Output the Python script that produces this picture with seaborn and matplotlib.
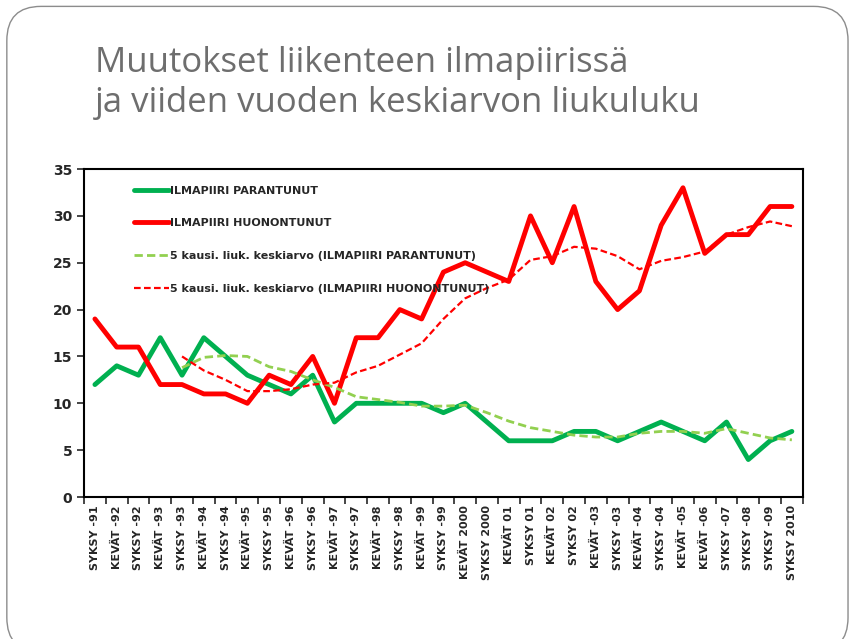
import numpy as np
import pandas as pd
import matplotlib.pyplot as plt
import seaborn as sns
from matplotlib.patches import FancyBboxPatch

# period labels (spring / autumn surveys)
periods = ['SYKSY -91', 'KEVÄT -92', 'SYKSY -92', 'KEVÄT -93', 'SYKSY -93',
           'KEVÄT -94', 'SYKSY -94', 'KEVÄT -95', 'SYKSY -95', 'KEVÄT -96',
           'SYKSY -96', 'KEVÄT -97', 'SYKSY -97', 'KEVÄT -98', 'SYKSY -98',
           'KEVÄT -99', 'SYKSY -99', 'KEVÄT 2000', 'SYKSY 2000', 'KEVÄT 01',
           'SYKSY 01', 'KEVÄT 02', 'SYKSY 02', 'KEVÄT -03', 'SYKSY -03',
           'KEVÄT -04', 'SYKSY -04', 'KEVÄT -05', 'KEVÄT -06', 'SYKSY -07',
           'SYKSY -08', 'SYKSY -09', 'SYKSY 2010']

improved = [12, 14, 13, 17, 13, 17, 15, 13, 12, 11, 13, 8, 10, 10, 10, 10, 9,
            10, 8, 6, 6, 6, 7, 7, 6, 7, 8, 7, 6, 8, 4, 6, 7]
worsened = [19, 16, 16, 12, 12, 11, 11, 10, 13, 12, 15, 10, 17, 17, 20, 19, 24,
            25, 24, 23, 30, 25, 31, 23, 20, 22, 29, 33, 26, 28, 28, 31, 31]
improved_avg = [np.nan, np.nan, np.nan, np.nan, 13.8, 14.9, 15.1, 15.0, 13.9,
                13.4, 12.5, 11.7, 10.7, 10.4, 10.1, 9.7, 9.7, 9.8, 9.0, 8.1,
                7.4, 7.0, 6.6, 6.4, 6.4, 6.8, 7.0, 7.0, 6.8, 7.3, 6.8, 6.3, 6.1]
worsened_avg = [np.nan, np.nan, np.nan, np.nan, 15.0, 13.5, 12.5, 11.3, 11.3,
                11.5, 12.0, 12.2, 13.3, 14.0, 15.2, 16.4, 19.0, 21.2, 22.3, 23.2,
                25.3, 25.7, 26.7, 26.5, 25.7, 24.3, 25.2, 25.6, 26.2, 28.0, 28.8,
                29.4, 28.9]

x = np.arange(len(periods))

sns.set_style("white")
plt.rcParams['font.family'] = ['DejaVu Sans']

fig = plt.figure(figsize=(8.54, 6.39), dpi=100)

# slide frame
frame = FancyBboxPatch((0.008, -0.02), 0.985, 1.01, transform=fig.transFigure,
                       boxstyle="round,pad=0,rounding_size=0.04",
                       facecolor='white', edgecolor='#8c8c8c', linewidth=1.0,
                       mutation_aspect=854 / 639, zorder=-5)
fig.patches.append(frame)

fig.text(0.111, 0.887, 'Muutokset liikenteen ilmapiirissä', fontsize=25,
         color='#6e6e6e', family='Open Sans', ha='left', va='baseline')
fig.text(0.111, 0.825, 'ja viiden vuoden keskiarvon liukuluku', fontsize=25,
         color='#6e6e6e', family='Open Sans', ha='left', va='baseline')

ax = fig.add_axes([0.0984, 0.2222, 0.8416, 0.5133])
ax.set_facecolor('none')

sns.lineplot(x=x, y=improved, ax=ax, color='#00B050', linewidth=3.5,
             label='ILMAPIIRI PARANTUNUT')
sns.lineplot(x=x, y=worsened, ax=ax, color='#FF0000', linewidth=3.5,
             label='ILMAPIIRI HUONONTUNUT')
sns.lineplot(x=x, y=improved_avg, ax=ax, color='#92D050', linewidth=2,
             linestyle=(0, (3, 1.5)),
             label='5 kausi. liuk. keskiarvo (ILMAPIIRI PARANTUNUT)')
sns.lineplot(x=x, y=worsened_avg, ax=ax, color='#FF0000', linewidth=1.6,
             linestyle=(0, (3, 1.5)),
             label='5 kausi. liuk. keskiarvo (ILMAPIIRI HUONONTUNUT)')

ax.set_xlim(-0.5, len(periods) - 0.5)
ax.set_ylim(0, 35)
ax.set_yticks(range(0, 36, 5))
ax.set_xticks(x)
ax.set_xticklabels(periods, rotation=90, fontsize=8, fontweight='bold')
ax.set_xticks(np.arange(-0.5, len(periods), 1), minor=True)
ax.tick_params(axis='x', which='major', length=0, pad=6)
ax.tick_params(axis='x', which='minor', length=5, width=1.2, direction='out',
               bottom=True)
ax.tick_params(axis='y', length=5, width=1.2, direction='out', left=True,
               labelsize=10)
for t in ax.get_yticklabels():
    t.set_fontweight('bold')
for sp in ax.spines.values():
    sp.set_color('black')
    sp.set_linewidth(1.5)

leg = ax.legend(loc='upper left', frameon=False, bbox_to_anchor=(0.055, 0.98),
                handlelength=3.2, handletextpad=0.05, labelspacing=2.05,
                prop={'size': 8, 'weight': 'bold'})

fig.savefig('out.png', dpi=100, facecolor='white')
